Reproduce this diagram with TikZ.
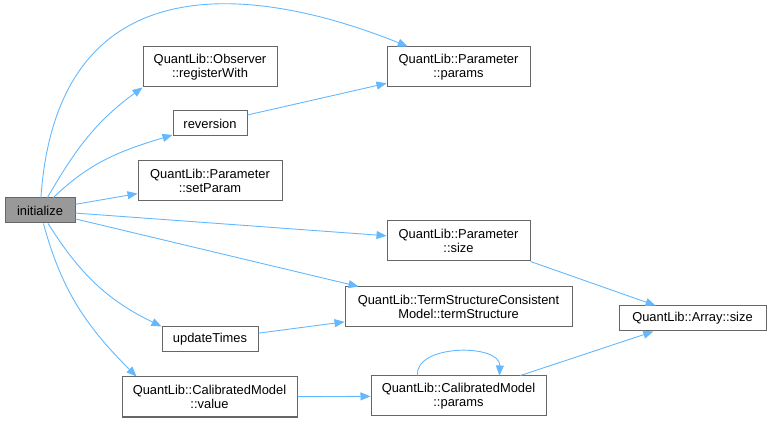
\documentclass[tikz,border=0pt]{standalone}
\usepackage{fontspec}
\setmainfont{Liberation Sans}
\usetikzlibrary{arrows.meta}
\definecolor{edgeblue}{HTML}{63B8FF}
\definecolor{boxgray}{HTML}{666666}
\definecolor{startfill}{HTML}{999999}

\begin{document}
\begin{tikzpicture}[
    x=1pt, y=1pt,
    box/.style={rectangle, draw=boxgray, fill=white, line width=1pt, minimum height=25pt, inner sep=0pt, align=center, font=\fontsize{12.9}{14}\selectfont},
    tall/.style={box, minimum height=40pt},
    arrow/.style={-{Triangle[length=10pt,width=8pt]}, draw=edgeblue, line width=0.9pt}
]
    \useasboundingbox (0,0) rectangle (771,423);

    \node[box, fill=startfill, minimum width=70pt] (init) at (40, 212.5) {initialize};

    \node[tall, minimum width=134pt] (regw)   at (210, 356)   {QuantLib::Observer\\::registerWith};
    \node[box,  minimum width=74pt]  (rev)    at (210, 299.5) {reversion};
    \node[tall, minimum width=144pt] (setp)   at (210, 242)   {QuantLib::Parameter\\::setParam};
    \node[box,  minimum width=96pt]  (upd)    at (210, 83.5)  {updateTimes};
    \node[tall, minimum width=175pt] (cmval)  at (209.5, 26)  {QuantLib::CalibratedModel\\::value};

    \node[tall, minimum width=143pt] (pparams)  at (458.5, 356) {QuantLib::Parameter\\::params};
    \node[tall, minimum width=143pt] (psize)    at (458.5, 182) {QuantLib::Parameter\\::size};
    \node[tall, minimum width=227pt] (tsc)      at (458.5, 116) {QuantLib::TermStructureConsistent\\Model::termStructure};
    \node[tall, minimum width=175pt] (cmparams) at (458.5, 27)  {QuantLib::CalibratedModel\\::params};
    \node[box,  minimum width=147pt] (arr)      at (692.5, 104.5) {QuantLib::Array::size};

    \draw[arrow] (init) to[out=86, in=158, out distance=255pt, in distance=135pt] (pparams);
    \draw[arrow] (init) to[out=60, in=216] (regw.south west);
    \draw[arrow] (init) to[out=44, in=197] (rev);
    \draw[arrow] (init) -- (setp);
    \draw[arrow] (init) -- (psize);
    \draw[arrow] (init) -- ([xshift=-100pt]tsc.north);
    \draw[arrow] (init) to[out=-58, in=154] (upd.north west);
    \draw[arrow] (init) to[out=-75, in=135] ([xshift=15pt]cmval.north west);
    \draw[arrow] (rev) -- (pparams);
    \draw[arrow] (upd) -- (tsc);
    \draw[arrow] (cmval) -- (cmparams);
    \draw[arrow] (psize.south east) -- (arr);
    \draw[arrow] (cmparams) -- (arr);
    \draw[arrow] ([xshift=-41pt]cmparams.north) to[out=95, in=88] ([xshift=41pt]cmparams.north);
\end{tikzpicture}
\end{document}
